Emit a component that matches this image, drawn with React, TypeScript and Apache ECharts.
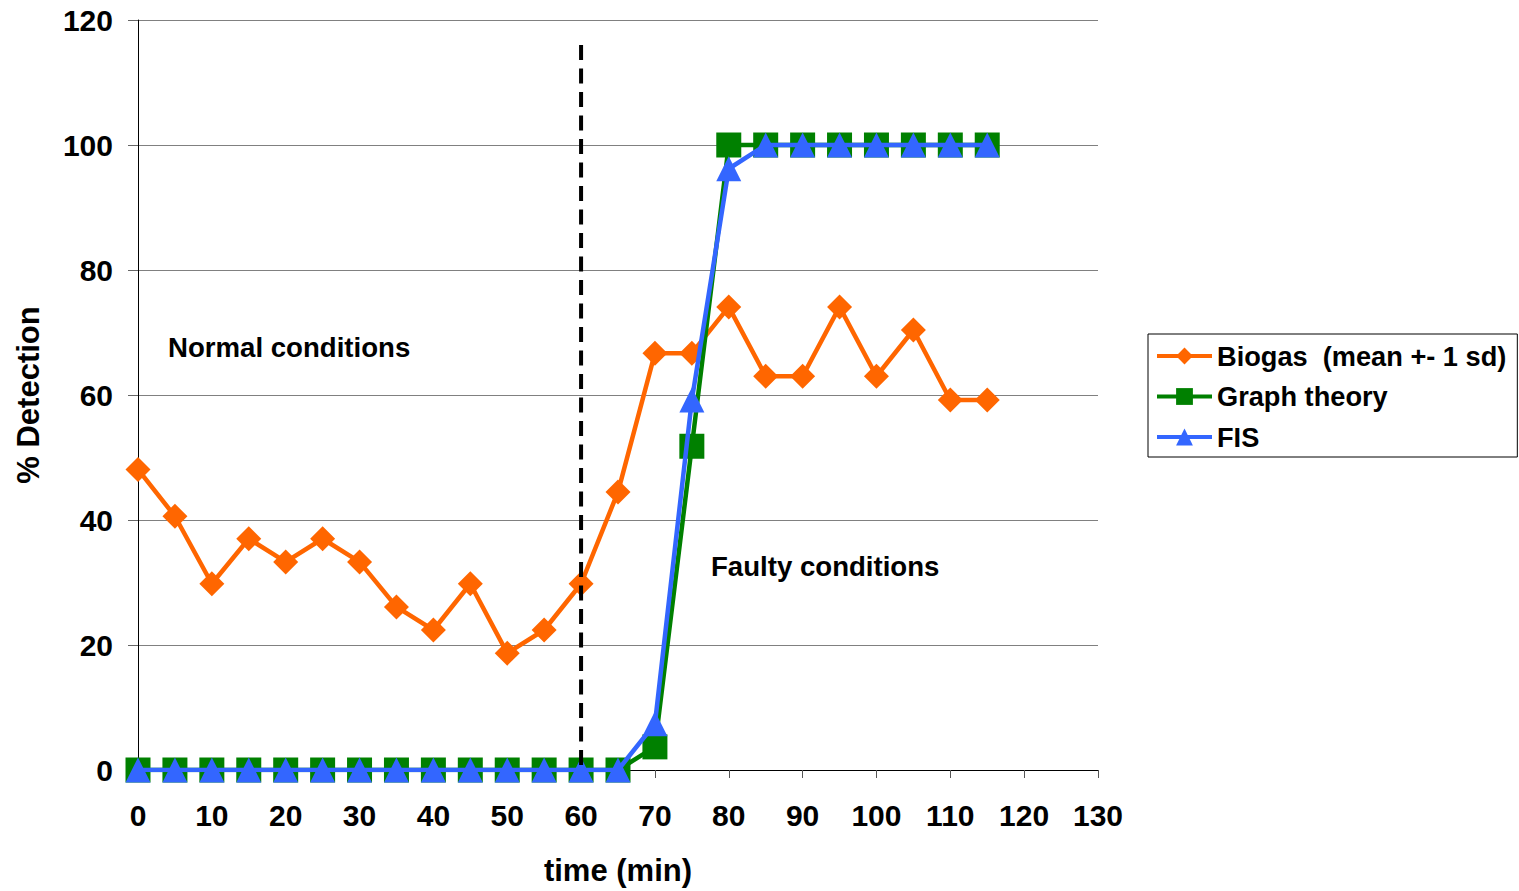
import React, { useEffect, useRef } from "react";
import * as echarts from "echarts";

const times = [0, 5, 10, 15, 20, 25, 30, 35, 40, 45, 50, 55, 60, 65, 70, 75, 80, 85, 90, 95, 100, 105, 110, 115];
const biogas = [48.1, 40.6, 29.8, 37.0, 33.3, 37.0, 33.3, 26.1, 22.4, 29.8, 18.7, 22.4, 29.8, 44.5, 66.7, 66.7, 74.1, 63.0, 63.0, 74.1, 63.0, 70.4, 59.2, 59.2];
const graphTheory = [0, 0, 0, 0, 0, 0, 0, 0, 0, 0, 0, 0, 0, 0, 3.7, 51.8, 100, 100, 100, 100, 100, 100, 100, 100];
const fis = [0, 0, 0, 0, 0, 0, 0, 0, 0, 0, 0, 0, 0, 0, 7.4, 59.2, 96.2, 100, 100, 100, 100, 100, 100, 100];
const dividerX = 60;
const dividerTop = 116;
const seriesNames = ["Biogas  (mean +- 1 sd)", "Graph theory", "FIS"];
const annotations = [
  { text: "Normal conditions", x: 168, y: 347 },
  { text: "Faulty conditions", x: 711, y: 566 },
];

const FONT = '"Liberation Sans", Arial, sans-serif';

export default function App() {
  const ref = useRef<HTMLDivElement>(null);
  useEffect(() => {
    if (!ref.current) return;
    const chart = echarts.init(ref.current, null, { renderer: "svg" });
    const pair = (arr: number[]) => times.map((t, i) => [t, arr[i]]);
    chart.setOption({
      animation: false,
      backgroundColor: "#ffffff",
      textStyle: { fontFamily: FONT },
      grid: { left: 138, right: 421, top: 20, bottom: 121, containLabel: false, outerBoundsMode: "none" },
      legend: {
        orient: "vertical",
        left: 1148,
        top: 334,
        data: seriesNames,
        itemWidth: 55,
        itemHeight: 21,
        itemGap: 10.5,
        padding: [7, 11, 5, 7],
        borderColor: "#000000",
        borderWidth: 1,
        lineStyle: { width: 4 },
        textStyle: { fontSize: 27.2, fontWeight: "bold", color: "#000", fontFamily: FONT, lineHeight: 30 },
      },
      xAxis: {
        type: "value",
        min: 0,
        max: 130,
        interval: 10,
        name: "time (min)",
        nameLocation: "middle",
        nameGap: 85,
        nameTextStyle: { fontSize: 31, fontWeight: "bold", color: "#000", fontFamily: FONT },
        axisLine: { show: true, lineStyle: { color: "#000", width: 1 } },
        axisTick: { show: true, length: 8, lineStyle: { color: "#555", width: 1 } },
        axisLabel: { fontSize: 30, fontWeight: "bold", color: "#000", margin: 30, fontFamily: FONT },
        splitLine: { show: false },
      },
      yAxis: {
        type: "value",
        min: 0,
        max: 120,
        interval: 20,
        name: "% Detection",
        nameLocation: "middle",
        nameGap: 94,
        nameTextStyle: { fontSize: 31, fontWeight: "bold", color: "#000", fontFamily: FONT },
        axisLine: { show: true, lineStyle: { color: "#000", width: 1 } },
        axisTick: { show: true, length: 10, lineStyle: { color: "#666", width: 1 } },
        axisLabel: { fontSize: 30, fontWeight: "bold", color: "#000", margin: 25, fontFamily: FONT },
        splitLine: { show: true, lineStyle: { color: "#808080", width: 1 } },
      },
      graphic: annotations.map((a) => ({
        type: "text",
        left: a.x,
        top: a.y - 15,
        style: {
          text: a.text,
          fontSize: 27.6,
          fontWeight: "bold",
          fontFamily: FONT,
          fill: "#000",
          lineHeight: 30,
        },
      })),
      series: [
        {
          name: seriesNames[0],
          type: "line",
          data: pair(biogas),
          symbol: "diamond",
          symbolSize: 25,
          lineStyle: { color: "#FF6600", width: 4.5 },
          itemStyle: { color: "#FF6600" },
          z: 2,
        },
        {
          name: seriesNames[1],
          type: "line",
          data: pair(graphTheory),
          symbol: "rect",
          symbolSize: 25,
          lineStyle: { color: "#008000", width: 4.5 },
          itemStyle: { color: "#008000" },
          z: 3,
        },
        {
          name: seriesNames[2],
          type: "line",
          data: pair(fis),
          symbol: "triangle",
          symbolSize: 25,
          lineStyle: { color: "#3366FF", width: 4.5 },
          itemStyle: { color: "#3366FF" },
          z: 4,
        },
        {
          name: "divider",
          type: "line",
          data: [
            [dividerX, dividerTop],
            [dividerX, 0],
          ],
          symbol: "none",
          silent: true,
          lineStyle: { color: "#000", width: 4, type: [15, 8.5] },
          z: 10,
        },
      ],
    });
    return () => chart.dispose();
  }, []);
  return (
    <div
      ref={ref}
      style={{ position: "fixed", left: 0, top: 0, width: 1519, height: 891, background: "#fff" }}
    />
  );
}
